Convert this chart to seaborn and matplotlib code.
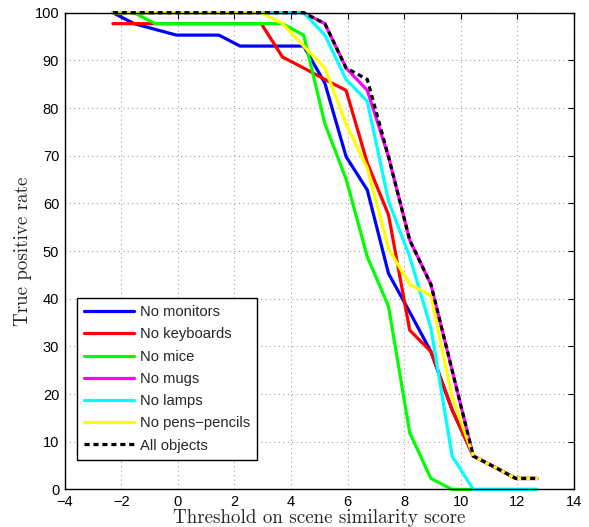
import matplotlib
matplotlib.use("Agg")
import matplotlib.pyplot as plt
import seaborn as sns

# thresholds on the scene similarity score
thresholds = [-2.3, -1.55, -0.8, -0.05, 0.7, 1.45, 2.2, 2.95, 3.7, 4.45, 5.2,
              5.95, 6.7, 7.45, 8.2, 8.95, 9.7, 10.45, 11.2, 11.95, 12.7]

# true positive rate (%) for each ablation
no_monitors = [100, 97.7, 96.5, 95.3, 95.3, 95.3, 93.0, 93.0, 93.0, 93.0, 85.2,
               69.8, 62.8, 45.3, 37.2, 28.9, 16.7, 7.0, 4.7, 2.3, 2.3]
no_keyboards = [97.7, 97.7, 97.7, 97.7, 97.7, 97.7, 97.7, 97.7, 90.7, 88.4, 86.0,
                83.7, 68.5, 57.6, 33.4, 28.9, 16.7, 7.0, 4.7, 2.3, 2.3]
no_mice = [100, 100, 97.7, 97.7, 97.7, 97.7, 97.7, 97.7, 97.7, 95.3, 76.7,
           65.1, 48.8, 38.4, 11.9, 2.3, 0, 0, 0, 0, 0]
no_mugs = [100, 100, 100, 100, 100, 100, 100, 100, 100, 100, 97.7,
           88.4, 83.7, 69.8, 52.3, 43.0, 25.0, 7.0, 4.7, 2.3, 2.3]
no_lamps = [100, 100, 100, 100, 100, 100, 100, 100, 100, 100, 95.3,
            86.0, 81.4, 60.5, 48.8, 33.8, 7.0, 0, 0, 0, 0]
no_pens = [100, 100, 100, 100, 100, 100, 100, 100, 97.7, 93.0, 88.4,
           76.7, 67.4, 50.5, 43.0, 40.7, 19.4, 7.0, 4.7, 2.3, 2.3]
all_objects = [100, 100, 100, 100, 100, 100, 100, 100, 100, 100, 97.7,
               88.4, 86.0, 69.8, 52.3, 43.0, 25.0, 7.0, 4.7, 2.3, 2.3]

series = [("No monitors", no_monitors, "#0000ff"),
          ("No keyboards", no_keyboards, "#ff0000"),
          ("No mice", no_mice, "#00ff00"),
          ("No mugs", no_mugs, "#ff00ff"),
          ("No lamps", no_lamps, "#00ffff"),
          ("No pens\u2212pencils", no_pens, "#ffff00"),
          ("All objects", all_objects, "#000000")]

sns.set_style("white")
plt.rcParams["font.family"] = ["Liberation Sans", "DejaVu Sans"]

fig = plt.figure(figsize=(5.89, 5.27), dpi=100)
ax = fig.add_axes([0.110, 0.0713, 0.864, 0.9046])

for name, vals, col in series:
    sns.lineplot(x=thresholds, y=vals, color=col, lw=2.3, label=name,
                 sort=False, ax=ax, clip_on=False, zorder=3)
# black reference curve is dashed
ax.lines[-1].set_dashes([1.6, 1.2])

ax.set_xlim(-4, 14)
ax.set_ylim(0, 100)
ax.set_xticks(range(-4, 15, 2))
ax.set_yticks(range(0, 101, 10))
ax.grid(True, linestyle=(0, (1, 3)), color="#a0a0a0", lw=0.8)
ax.tick_params(direction="in", length=4, width=0.8, top=True, right=True,
               labelsize=10.5, colors="black")
ax.tick_params(axis="x", pad=4)
ax.tick_params(axis="y", pad=4)
for sp in ax.spines.values():
    sp.set_color("black")
    sp.set_linewidth(1)
    sp.set_zorder(4)

ax.set_xlabel("Threshold on scene similarity score", family="cmr10",
              fontsize=13.7, labelpad=0)
ax.set_ylabel("True positive rate", family="cmr10", fontsize=13.7, labelpad=2)

leg = ax.legend(loc="lower left", bbox_to_anchor=(0.0234, 0.0617),
                borderaxespad=0, fontsize=10.6, handlelength=3.4,
                handletextpad=0.4, labelspacing=0.56, borderpad=0.5,
                fancybox=False, framealpha=1, edgecolor="black")
leg.get_frame().set_linewidth(1)
leg.set_zorder(5)

plt.savefig("out.png", dpi=100)
